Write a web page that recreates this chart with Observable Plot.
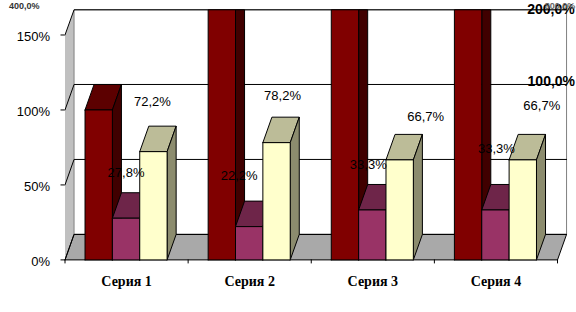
<!DOCTYPE html>
<html><head><meta charset="utf-8">
<script src="https://cdn.jsdelivr.net/npm/d3@7"></script>
<script src="https://cdn.jsdelivr.net/npm/@observablehq/plot@0.6"></script>
<style>html,body{margin:0;padding:0;background:#fff}svg{display:block}</style>
</head><body><div id="chart"></div>
<script>
const categories = ["Серия 1", "Серия 2", "Серия 3", "Серия 4"];
const seriesA = [100, 400, 200, 800];
const seriesB = [27.8, 22.2, 33.3, 33.3];
const seriesC = [72.2, 78.2, 66.7, 66.7];
const labelsA = ["100,0%", "400,0%", "200,0%", "800,0%"];
const labelsB = ["27,8%", "22,2%", "33,3%", "33,3%"];
const labelsC = ["72,2%", "78,2%", "66,7%", "66,7%"];
const yTicks = [0, 50, 100, 150];
const xTicks = [0, 1, 2, 3, 4];

const colors = {
  A: ["#800000", "#5c0000", "#400000"],
  B: ["#993366", "#6e2549", "#6e2549"],
  C: ["#ffffcc", "#bcbc98", "#8c8c6e"]
};
const yMax = 166.8, depthX = 0.0735, depthY = 17, gap = 0.1626, barW = 0.2222;

let pid = 0;
function poly(list, pts, fill, stroke = "#000") {
  pid++;
  pts.concat([pts[0]]).forEach(p => list.push({id: pid, x: p[0], y: p[1], fill, stroke}));
}
// walls and floor
const walls = [];
poly(walls, [[0,0],[depthX,depthY],[depthX,yMax],[0,yMax-depthY]], "#c0c0c0", "none");
poly(walls, [[depthX,depthY],[4+depthX,depthY],[4+depthX,yMax],[depthX,yMax]], "#ffffff", "#808080");
poly(walls, [[0,0],[4,0],[4+depthX,depthY],[depthX,depthY]], "#a9a9a9", "#000");
// gridlines running over the left wall and along the back wall
const grid = [];
yTicks.forEach(v => {
  pid++;
  [[0,v],[depthX,v+depthY],[4+depthX,v+depthY]].forEach(p => grid.push({id: pid, x: p[0], y: Math.min(p[1], yMax)}));
});
// bars, painted back to front
const bars = [];
function bar(x0, v, c) {
  const x1 = x0 + barW, front = Math.min(v, yMax), back = Math.min(v + depthY, yMax);
  if (v + depthY <= yMax) poly(bars, [[x0,front],[x1,front],[x1+depthX,back],[x0+depthX,back]], c[1]);
  poly(bars, [[x1,0],[x1+depthX,depthY],[x1+depthX,back],[x1,front]], c[2]);
  poly(bars, [[x0,0],[x1,0],[x1,front],[x0,front]], c[0]);
}
categories.forEach((_, i) => {
  const s = i + gap;
  bar(s, seriesA[i], colors.A);
  bar(s + barW, seriesB[i], colors.B);
  bar(s + 2*barW, seriesC[i], colors.C);
});

// hand-placed labels, pixel offsets from the back top of each bar
const nudgeB = [[0,-20],[-10,-25],[-4,-20],[1,-36]];
const nudgeC = [[-1,-24],[6,-21],[26,-18],[19,-29]];
const textMarks = [];
[[seriesB,labelsB,nudgeB,1],[seriesC,labelsC,nudgeC,2]].forEach(([vals,labs,nudge,k]) => {
  vals.forEach((v,i) => {
    textMarks.push(Plot.text([labs[i]], {
      x: () => i+gap+(k+.5)*barW, y: () => v+depthY, text: d => d,
      dx: nudge[i][0], dy: nudge[i][1],
      fontFamily: "Liberation Sans", fontSize: 13, fill: "#000"
    }));
  });
});
const topLabels = [
  {i:0, dx:452.6, dy:-3, size:14, fill:"#000"},
  {i:1, dx:-197.5, dy:-4, size:9, fill:"#333"},
  {i:2, dx:206, dy:0, size:14, fill:"#000"},
  {i:3, dx:92, dy:-4, size:9, fill:"#666"}
];
topLabels.forEach(t => {
  textMarks.push(Plot.text([labelsA[t.i]], {
    x: () => t.i+gap+.5*barW, y: () => Math.min(seriesA[t.i]+depthY, yMax), text: d => d,
    dx: t.dx, dy: t.dy, fontFamily: "Liberation Sans", fontSize: t.size, fontWeight: "bold", fill: t.fill
  }));
});

const plot = Plot.plot({
  width: 576, height: 312,
  marginLeft: 64.5, marginRight: 19, marginTop: 9.3, marginBottom: 52.6,
  style: {background: "#fff", overflow: "visible"},
  x: {domain: [0,4], axis: null},
  y: {domain: [0,yMax], axis: null},
  marks: [
    Plot.line(walls, {x:"x", y:"y", z:"id", fill:"fill", stroke:"stroke", strokeWidth:1}),
    Plot.line(grid, {x:"x", y:"y", z:"id", stroke:"#000", strokeWidth:1}),
    Plot.axisY({ticks: yTicks, tickSize: 4, tickFormat: () => "", label: null, color: "#000"}),
    Plot.axisY({ticks: yTicks, tickSize: 0, tickPadding: 15, dy: 2, tickFormat: d => d + "%",
      fontFamily: "Liberation Sans", fontSize: 13, color: "#000", label: null, marginLeft: 64.5}),
    Plot.axisX({ticks: xTicks, tickSize: 4, tickFormat: () => "", label: null, color: "#000"}),
    Plot.line(bars, {x:"x", y:"y", z:"id", fill:"fill", stroke:"stroke", strokeWidth:1}),
    Plot.axisX({ticks: [0.5,1.5,2.5,3.5], tickSize: 0, tickPadding: 16, tickFormat: (d,i) => categories[i],
      fontFamily: "Liberation Serif", fontWeight: "bold", fontSize: 14, color: "#000", label: null}),
    ...textMarks
  ]
});
document.getElementById("chart").append(plot);
</script></body></html>
